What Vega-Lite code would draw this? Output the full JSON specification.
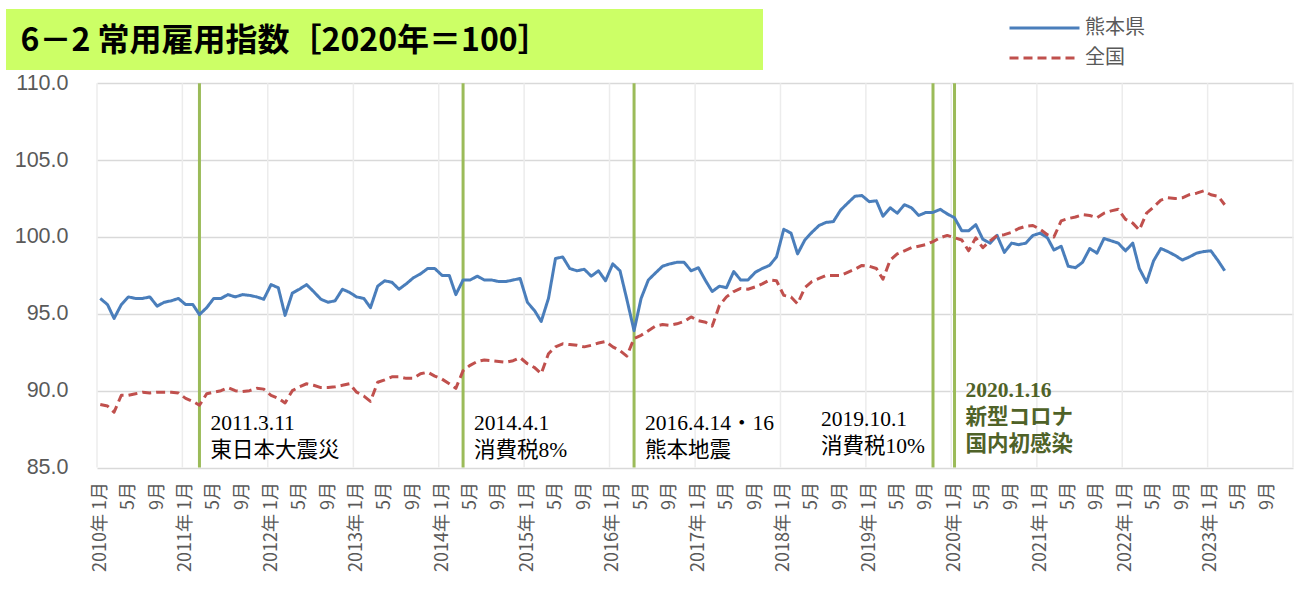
{
  "$schema": "https://vega.github.io/schema/vega-lite/v6.json",
  "padding": {"left": 6, "top": 9, "right": 0, "bottom": 0},
  "background": "white",
  "spacing": 0,
  "bounds": "flush",
  "config": {
    "view": {"stroke": null},
    "legend": {
      "orient": "none", "legendX": 1028.5, "legendY": 9, "title": null, "padding": 0,
      "symbolType": "M-5,0H5", "symbolSize": 196, "symbolStrokeWidth": 3,
      "labelFont": "Noto Sans CJK JP", "labelFontSize": 20, "labelColor": "#595959",
      "labelOffset": 30.5, "rowPadding": 10
    }
  },
  "datasets": {
    "main": [
      {"m": "2010/01/15", "kumamoto": 96.0, "zenkoku": 89.1},
      {"m": "2010/02/15", "kumamoto": 95.6, "zenkoku": 89.0},
      {"m": "2010/03/15", "kumamoto": 94.7, "zenkoku": 88.6},
      {"m": "2010/04/15", "kumamoto": 95.6, "zenkoku": 89.7},
      {"m": "2010/05/15", "kumamoto": 96.1, "zenkoku": 89.7},
      {"m": "2010/06/15", "kumamoto": 96.0, "zenkoku": 89.8},
      {"m": "2010/07/15", "kumamoto": 96.0, "zenkoku": 89.9},
      {"m": "2010/08/15", "kumamoto": 96.1, "zenkoku": 89.85},
      {"m": "2010/09/15", "kumamoto": 95.5, "zenkoku": 89.9},
      {"m": "2010/10/15", "kumamoto": 95.75, "zenkoku": 89.9},
      {"m": "2010/11/15", "kumamoto": 95.85, "zenkoku": 89.9},
      {"m": "2010/12/15", "kumamoto": 96.0, "zenkoku": 89.85},
      {"m": "2011/01/15", "kumamoto": 95.6, "zenkoku": 89.5},
      {"m": "2011/02/15", "kumamoto": 95.6, "zenkoku": 89.3},
      {"m": "2011/03/15", "kumamoto": 94.95, "zenkoku": 89.05},
      {"m": "2011/04/15", "kumamoto": 95.4, "zenkoku": 89.8},
      {"m": "2011/05/15", "kumamoto": 96.0, "zenkoku": 89.9},
      {"m": "2011/06/15", "kumamoto": 96.0, "zenkoku": 90.0},
      {"m": "2011/07/15", "kumamoto": 96.25, "zenkoku": 90.2},
      {"m": "2011/08/15", "kumamoto": 96.1, "zenkoku": 90.0},
      {"m": "2011/09/15", "kumamoto": 96.25, "zenkoku": 89.95},
      {"m": "2011/10/15", "kumamoto": 96.2, "zenkoku": 90.0},
      {"m": "2011/11/15", "kumamoto": 96.1, "zenkoku": 90.15},
      {"m": "2011/12/15", "kumamoto": 95.95, "zenkoku": 90.1},
      {"m": "2012/01/15", "kumamoto": 96.9, "zenkoku": 89.7},
      {"m": "2012/02/15", "kumamoto": 96.7, "zenkoku": 89.5},
      {"m": "2012/03/15", "kumamoto": 94.9, "zenkoku": 89.2},
      {"m": "2012/04/15", "kumamoto": 96.35, "zenkoku": 90.0},
      {"m": "2012/05/15", "kumamoto": 96.6, "zenkoku": 90.25},
      {"m": "2012/06/15", "kumamoto": 96.9, "zenkoku": 90.45},
      {"m": "2012/07/15", "kumamoto": 96.45, "zenkoku": 90.35},
      {"m": "2012/08/15", "kumamoto": 95.95, "zenkoku": 90.2},
      {"m": "2012/09/15", "kumamoto": 95.75, "zenkoku": 90.2},
      {"m": "2012/10/15", "kumamoto": 95.85, "zenkoku": 90.25},
      {"m": "2012/11/15", "kumamoto": 96.6, "zenkoku": 90.35},
      {"m": "2012/12/15", "kumamoto": 96.4, "zenkoku": 90.45},
      {"m": "2013/01/15", "kumamoto": 96.1, "zenkoku": 89.9},
      {"m": "2013/02/15", "kumamoto": 96.0, "zenkoku": 89.65},
      {"m": "2013/03/15", "kumamoto": 95.4, "zenkoku": 89.3},
      {"m": "2013/04/15", "kumamoto": 96.8, "zenkoku": 90.55},
      {"m": "2013/05/15", "kumamoto": 97.15, "zenkoku": 90.7},
      {"m": "2013/06/15", "kumamoto": 97.05, "zenkoku": 90.9},
      {"m": "2013/07/15", "kumamoto": 96.6, "zenkoku": 90.9},
      {"m": "2013/08/15", "kumamoto": 96.95, "zenkoku": 90.8},
      {"m": "2013/09/15", "kumamoto": 97.35, "zenkoku": 90.8},
      {"m": "2013/10/15", "kumamoto": 97.6, "zenkoku": 91.1},
      {"m": "2013/11/15", "kumamoto": 97.95, "zenkoku": 91.2},
      {"m": "2013/12/15", "kumamoto": 97.95, "zenkoku": 90.95},
      {"m": "2014/01/15", "kumamoto": 97.5, "zenkoku": 90.75},
      {"m": "2014/02/15", "kumamoto": 97.5, "zenkoku": 90.45},
      {"m": "2014/03/15", "kumamoto": 96.25, "zenkoku": 90.15},
      {"m": "2014/04/15", "kumamoto": 97.2, "zenkoku": 91.3},
      {"m": "2014/05/15", "kumamoto": 97.2, "zenkoku": 91.65},
      {"m": "2014/06/15", "kumamoto": 97.45, "zenkoku": 91.9},
      {"m": "2014/07/15", "kumamoto": 97.2, "zenkoku": 92.0},
      {"m": "2014/08/15", "kumamoto": 97.2, "zenkoku": 91.95},
      {"m": "2014/09/15", "kumamoto": 97.1, "zenkoku": 91.9},
      {"m": "2014/10/15", "kumamoto": 97.1, "zenkoku": 91.85},
      {"m": "2014/11/15", "kumamoto": 97.2, "zenkoku": 91.95},
      {"m": "2014/12/15", "kumamoto": 97.3, "zenkoku": 92.15},
      {"m": "2015/01/15", "kumamoto": 95.75, "zenkoku": 91.75},
      {"m": "2015/02/15", "kumamoto": 95.2, "zenkoku": 91.5},
      {"m": "2015/03/15", "kumamoto": 94.5, "zenkoku": 91.1},
      {"m": "2015/04/15", "kumamoto": 96.0, "zenkoku": 92.4},
      {"m": "2015/05/15", "kumamoto": 98.6, "zenkoku": 92.85},
      {"m": "2015/06/15", "kumamoto": 98.7, "zenkoku": 93.05},
      {"m": "2015/07/15", "kumamoto": 97.95, "zenkoku": 93.0},
      {"m": "2015/08/15", "kumamoto": 97.8, "zenkoku": 92.95},
      {"m": "2015/09/15", "kumamoto": 97.9, "zenkoku": 92.85},
      {"m": "2015/10/15", "kumamoto": 97.45, "zenkoku": 92.95},
      {"m": "2015/11/15", "kumamoto": 97.8, "zenkoku": 93.1},
      {"m": "2015/12/15", "kumamoto": 97.15, "zenkoku": 93.2},
      {"m": "2016/01/15", "kumamoto": 98.25, "zenkoku": 92.85},
      {"m": "2016/02/15", "kumamoto": 97.8, "zenkoku": 92.6},
      {"m": "2016/03/15", "kumamoto": 95.95, "zenkoku": 92.25},
      {"m": "2016/04/15", "kumamoto": 93.9, "zenkoku": 93.4},
      {"m": "2016/05/15", "kumamoto": 96.0, "zenkoku": 93.6},
      {"m": "2016/06/15", "kumamoto": 97.2, "zenkoku": 93.9},
      {"m": "2016/07/15", "kumamoto": 97.65, "zenkoku": 94.2},
      {"m": "2016/08/15", "kumamoto": 98.1, "zenkoku": 94.3},
      {"m": "2016/09/15", "kumamoto": 98.25, "zenkoku": 94.25},
      {"m": "2016/10/15", "kumamoto": 98.35, "zenkoku": 94.35},
      {"m": "2016/11/15", "kumamoto": 98.35, "zenkoku": 94.5},
      {"m": "2016/12/15", "kumamoto": 97.8, "zenkoku": 94.8},
      {"m": "2017/01/15", "kumamoto": 98.0, "zenkoku": 94.55},
      {"m": "2017/02/15", "kumamoto": 97.15, "zenkoku": 94.45},
      {"m": "2017/03/15", "kumamoto": 96.45, "zenkoku": 94.2},
      {"m": "2017/04/15", "kumamoto": 96.8, "zenkoku": 95.55},
      {"m": "2017/05/15", "kumamoto": 96.7, "zenkoku": 96.1},
      {"m": "2017/06/15", "kumamoto": 97.75, "zenkoku": 96.45},
      {"m": "2017/07/15", "kumamoto": 97.2, "zenkoku": 96.65},
      {"m": "2017/08/15", "kumamoto": 97.2, "zenkoku": 96.6},
      {"m": "2017/09/15", "kumamoto": 97.7, "zenkoku": 96.75},
      {"m": "2017/10/15", "kumamoto": 97.95, "zenkoku": 96.95},
      {"m": "2017/11/15", "kumamoto": 98.15, "zenkoku": 97.2},
      {"m": "2017/12/15", "kumamoto": 98.7, "zenkoku": 97.15},
      {"m": "2018/01/15", "kumamoto": 100.5, "zenkoku": 96.2},
      {"m": "2018/02/15", "kumamoto": 100.25, "zenkoku": 96.1},
      {"m": "2018/03/15", "kumamoto": 98.9, "zenkoku": 95.65},
      {"m": "2018/04/15", "kumamoto": 99.8, "zenkoku": 96.7},
      {"m": "2018/05/15", "kumamoto": 100.3, "zenkoku": 97.1},
      {"m": "2018/06/15", "kumamoto": 100.75, "zenkoku": 97.3},
      {"m": "2018/07/15", "kumamoto": 100.95, "zenkoku": 97.5},
      {"m": "2018/08/15", "kumamoto": 101.0, "zenkoku": 97.5},
      {"m": "2018/09/15", "kumamoto": 101.75, "zenkoku": 97.5},
      {"m": "2018/10/15", "kumamoto": 102.2, "zenkoku": 97.7},
      {"m": "2018/11/15", "kumamoto": 102.65, "zenkoku": 97.9},
      {"m": "2018/12/15", "kumamoto": 102.7, "zenkoku": 98.15},
      {"m": "2019/01/15", "kumamoto": 102.3, "zenkoku": 98.1},
      {"m": "2019/02/15", "kumamoto": 102.35, "zenkoku": 97.95},
      {"m": "2019/03/15", "kumamoto": 101.35, "zenkoku": 97.25},
      {"m": "2019/04/15", "kumamoto": 101.9, "zenkoku": 98.5},
      {"m": "2019/05/15", "kumamoto": 101.55, "zenkoku": 98.9},
      {"m": "2019/06/15", "kumamoto": 102.1, "zenkoku": 99.1},
      {"m": "2019/07/15", "kumamoto": 101.9, "zenkoku": 99.3},
      {"m": "2019/08/15", "kumamoto": 101.4, "zenkoku": 99.4},
      {"m": "2019/09/15", "kumamoto": 101.6, "zenkoku": 99.5},
      {"m": "2019/10/15", "kumamoto": 101.6, "zenkoku": 99.7},
      {"m": "2019/11/15", "kumamoto": 101.8, "zenkoku": 99.95},
      {"m": "2019/12/15", "kumamoto": 101.5, "zenkoku": 100.1},
      {"m": "2020/01/15", "kumamoto": 101.25, "zenkoku": 99.95},
      {"m": "2020/02/15", "kumamoto": 100.4, "zenkoku": 99.8},
      {"m": "2020/03/15", "kumamoto": 100.4, "zenkoku": 99.1},
      {"m": "2020/04/15", "kumamoto": 100.8, "zenkoku": 99.95},
      {"m": "2020/05/15", "kumamoto": 99.85, "zenkoku": 99.3},
      {"m": "2020/06/15", "kumamoto": 99.6, "zenkoku": 99.75},
      {"m": "2020/07/15", "kumamoto": 100.1, "zenkoku": 100.1},
      {"m": "2020/08/15", "kumamoto": 99.0, "zenkoku": 100.15},
      {"m": "2020/09/15", "kumamoto": 99.6, "zenkoku": 100.3},
      {"m": "2020/10/15", "kumamoto": 99.5, "zenkoku": 100.55},
      {"m": "2020/11/15", "kumamoto": 99.6, "zenkoku": 100.7},
      {"m": "2020/12/15", "kumamoto": 100.1, "zenkoku": 100.75},
      {"m": "2021/01/15", "kumamoto": 100.25, "zenkoku": 100.5},
      {"m": "2021/02/15", "kumamoto": 99.95, "zenkoku": 100.15},
      {"m": "2021/03/15", "kumamoto": 99.15, "zenkoku": 100.0},
      {"m": "2021/04/15", "kumamoto": 99.4, "zenkoku": 101.05},
      {"m": "2021/05/15", "kumamoto": 98.1, "zenkoku": 101.2},
      {"m": "2021/06/15", "kumamoto": 98.0, "zenkoku": 101.3},
      {"m": "2021/07/15", "kumamoto": 98.35, "zenkoku": 101.45},
      {"m": "2021/08/15", "kumamoto": 99.25, "zenkoku": 101.4},
      {"m": "2021/09/15", "kumamoto": 98.95, "zenkoku": 101.25},
      {"m": "2021/10/15", "kumamoto": 99.9, "zenkoku": 101.55},
      {"m": "2021/11/15", "kumamoto": 99.75, "zenkoku": 101.7},
      {"m": "2021/12/15", "kumamoto": 99.6, "zenkoku": 101.8},
      {"m": "2022/01/15", "kumamoto": 99.1, "zenkoku": 101.15},
      {"m": "2022/02/15", "kumamoto": 99.6, "zenkoku": 100.9},
      {"m": "2022/03/15", "kumamoto": 97.95, "zenkoku": 100.45},
      {"m": "2022/04/15", "kumamoto": 97.05, "zenkoku": 101.55},
      {"m": "2022/05/15", "kumamoto": 98.45, "zenkoku": 101.95},
      {"m": "2022/06/15", "kumamoto": 99.25, "zenkoku": 102.4},
      {"m": "2022/07/15", "kumamoto": 99.05, "zenkoku": 102.55},
      {"m": "2022/08/15", "kumamoto": 98.8, "zenkoku": 102.5},
      {"m": "2022/09/15", "kumamoto": 98.5, "zenkoku": 102.55},
      {"m": "2022/10/15", "kumamoto": 98.7, "zenkoku": 102.75},
      {"m": "2022/11/15", "kumamoto": 98.95, "zenkoku": 102.85},
      {"m": "2022/12/15", "kumamoto": 99.05, "zenkoku": 103.0},
      {"m": "2023/01/15", "kumamoto": 99.1, "zenkoku": 102.75},
      {"m": "2023/02/15", "kumamoto": 98.45, "zenkoku": 102.65},
      {"m": "2023/03/15", "kumamoto": 97.8, "zenkoku": 102.1}
    ],
    "years": [
      {"m": "2010/01/01"}, {"m": "2011/01/01"}, {"m": "2012/01/01"}, {"m": "2013/01/01"},
      {"m": "2014/01/01"}, {"m": "2015/01/01"}, {"m": "2016/01/01"}, {"m": "2017/01/01"},
      {"m": "2018/01/01"}, {"m": "2019/01/01"}, {"m": "2020/01/01"}, {"m": "2021/01/01"},
      {"m": "2022/01/01"}, {"m": "2023/01/01"}, {"m": "2024/01/01"}
    ],
    "events": [
      {"m": "2011/03/15", "label": "2011.3.11\n東日本大震災", "kind": "r"},
      {"m": "2014/04/15", "label": "2014.4.1\n消費税8%", "kind": "r"},
      {"m": "2016/04/15", "label": "2016.4.14・16\n熊本地震", "kind": "r"},
      {"m": "2019/10/15", "label": "2019.10.1\n消費税10%", "kind": "l"},
      {"m": "2020/01/15", "label": "2020.1.16\n新型コロナ\n国内初感染", "kind": "c"}
    ]
  },
  "vconcat": [
    {
      "width": 757,
      "height": 61,
      "view": {"fill": "#ccff66", "stroke": null},
      "data": {"values": [{"t": "6－2 常用雇用指数［2020年＝100］"}]},
      "mark": {"type": "text", "align": "left", "baseline": "middle", "dx": -364, "dy": 1, "font": "Noto Sans CJK JP", "fontSize": 32, "fontWeight": "bold", "color": "#000000"},
      "encoding": {"text": {"field": "t", "type": "nominal"}}
    },
    {
      "width": 1304,
      "height": 527,
      "view": {"stroke": null},
      "encoding": {
        "x": {
          "field": "m", "type": "temporal",
          "scale": {"domain": [{"year": 2010, "month": 1, "date": 1}, {"year": 2024, "month": 1, "date": 1}], "range": [91, 1287]},
          "axis": {
            "values": [
              {"year": 2010, "month": 1, "date": 15}, {"year": 2010, "month": 5, "date": 15}, {"year": 2010, "month": 9, "date": 15},
              {"year": 2011, "month": 1, "date": 15}, {"year": 2011, "month": 5, "date": 15}, {"year": 2011, "month": 9, "date": 15},
              {"year": 2012, "month": 1, "date": 15}, {"year": 2012, "month": 5, "date": 15}, {"year": 2012, "month": 9, "date": 15},
              {"year": 2013, "month": 1, "date": 15}, {"year": 2013, "month": 5, "date": 15}, {"year": 2013, "month": 9, "date": 15},
              {"year": 2014, "month": 1, "date": 15}, {"year": 2014, "month": 5, "date": 15}, {"year": 2014, "month": 9, "date": 15},
              {"year": 2015, "month": 1, "date": 15}, {"year": 2015, "month": 5, "date": 15}, {"year": 2015, "month": 9, "date": 15},
              {"year": 2016, "month": 1, "date": 15}, {"year": 2016, "month": 5, "date": 15}, {"year": 2016, "month": 9, "date": 15},
              {"year": 2017, "month": 1, "date": 15}, {"year": 2017, "month": 5, "date": 15}, {"year": 2017, "month": 9, "date": 15},
              {"year": 2018, "month": 1, "date": 15}, {"year": 2018, "month": 5, "date": 15}, {"year": 2018, "month": 9, "date": 15},
              {"year": 2019, "month": 1, "date": 15}, {"year": 2019, "month": 5, "date": 15}, {"year": 2019, "month": 9, "date": 15},
              {"year": 2020, "month": 1, "date": 15}, {"year": 2020, "month": 5, "date": 15}, {"year": 2020, "month": 9, "date": 15},
              {"year": 2021, "month": 1, "date": 15}, {"year": 2021, "month": 5, "date": 15}, {"year": 2021, "month": 9, "date": 15},
              {"year": 2022, "month": 1, "date": 15}, {"year": 2022, "month": 5, "date": 15}, {"year": 2022, "month": 9, "date": 15},
              {"year": 2023, "month": 1, "date": 15}, {"year": 2023, "month": 5, "date": 15}, {"year": 2023, "month": 9, "date": 15}
            ],
            "labelExpr": "month(datum.value) == 0 ? year(datum.value) + '年 1月' : (month(datum.value) + 1) + '月'",
            "labelAngle": -90, "labelAlign": "right", "labelBaseline": "middle",
            "labelFont": "Noto Sans CJK JP", "labelFontSize": 18, "labelColor": "#595959",
            "labelPadding": 14, "labelOverlap": false, "labelBound": false, "labelFlush": false,
            "ticks": false, "domain": false, "grid": false, "title": null, "offset": -129.5
          }
        }
      },
      "layer": [
        {
          "data": {"name": "years", "format": {"parse": {"m": "date"}}},
          "mark": {"type": "rule", "color": "#ececec", "strokeWidth": 1.5},
          "encoding": {"y": {"datum": 85, "type": "quantitative", "axis": {"title": null}}, "y2": {"datum": 110}}
        },
        {
          "data": {"name": "events", "format": {"parse": {"m": "date"}}},
          "mark": {"type": "rule", "color": "#9bbb59", "strokeWidth": 3},
          "encoding": {"y": {"datum": 85, "type": "quantitative", "axis": {"title": null}}, "y2": {"datum": 110}}
        },
        {
          "data": {"name": "main"},
          "transform": [{"fold": ["kumamoto", "zenkoku"], "as": ["s", "value"]}],
          "mark": {"type": "line", "strokeWidth": 3, "strokeJoin": "round"},
          "encoding": {
            "y": {
              "field": "value", "type": "quantitative",
              "scale": {"domain": [85, 110], "range": [397.5, 13.3], "zero": false, "nice": false},
              "axis": {
                "values": [85, 90, 95, 100, 105, 110], "format": ".1f",
                "labelFont": "Liberation Sans", "labelFontSize": 21.5, "labelColor": "#595959",
                "labelPadding": 29, "ticks": false, "domain": false,
                "grid": true, "gridColor": "#d9d9d9", "gridWidth": 1.5,
                "title": null, "offset": -91
              }
            },
            "color": {
              "field": "s", "type": "nominal",
              "scale": {"domain": ["kumamoto", "zenkoku"], "range": ["#4a7ebb", "#c0504d"]},
              "legend": {"labelExpr": "datum.label == 'kumamoto' ? '熊本県' : '全国'"}
            },
            "strokeDash": {
              "field": "s", "type": "nominal",
              "scale": {"domain": ["kumamoto", "zenkoku"], "range": [[1, 0], [9, 5]]},
              "legend": {"labelExpr": "datum.label == 'kumamoto' ? '熊本県' : '全国'"}
            }
          }
        },
        {
          "data": {"name": "events", "format": {"parse": {"m": "date"}}},
          "transform": [{"filter": "datum.kind == 'r'"}],
          "mark": {"type": "text", "align": "left", "baseline": "alphabetic", "dx": 11, "lineBreak": "\n", "lineHeight": 27, "font": "Liberation Serif, Noto Sans CJK JP", "fontSize": 21.5, "color": "#000000"},
          "encoding": {"y": {"datum": 87.45, "type": "quantitative", "axis": {"title": null}}, "text": {"field": "label", "type": "nominal"}}
        },
        {
          "data": {"name": "events", "format": {"parse": {"m": "date"}}},
          "transform": [{"filter": "datum.kind == 'l'"}],
          "mark": {"type": "text", "align": "left", "baseline": "alphabetic", "dx": -112, "lineBreak": "\n", "lineHeight": 27, "font": "Liberation Serif, Noto Sans CJK JP", "fontSize": 21.5, "color": "#000000"},
          "encoding": {"y": {"datum": 87.7, "type": "quantitative", "axis": {"title": null}}, "text": {"field": "label", "type": "nominal"}}
        },
        {
          "data": {"name": "events", "format": {"parse": {"m": "date"}}},
          "transform": [{"filter": "datum.kind == 'c'"}],
          "mark": {"type": "text", "align": "left", "baseline": "alphabetic", "dx": 11, "lineBreak": "\n", "lineHeight": 27, "font": "Liberation Serif, Noto Sans CJK JP", "fontSize": 21.5, "fontWeight": "bold", "color": "#4f6228"},
          "encoding": {"y": {"datum": 89.6, "type": "quantitative", "axis": {"title": null}}, "text": {"field": "label", "type": "nominal"}}
        }
      ]
    }
  ]
}
